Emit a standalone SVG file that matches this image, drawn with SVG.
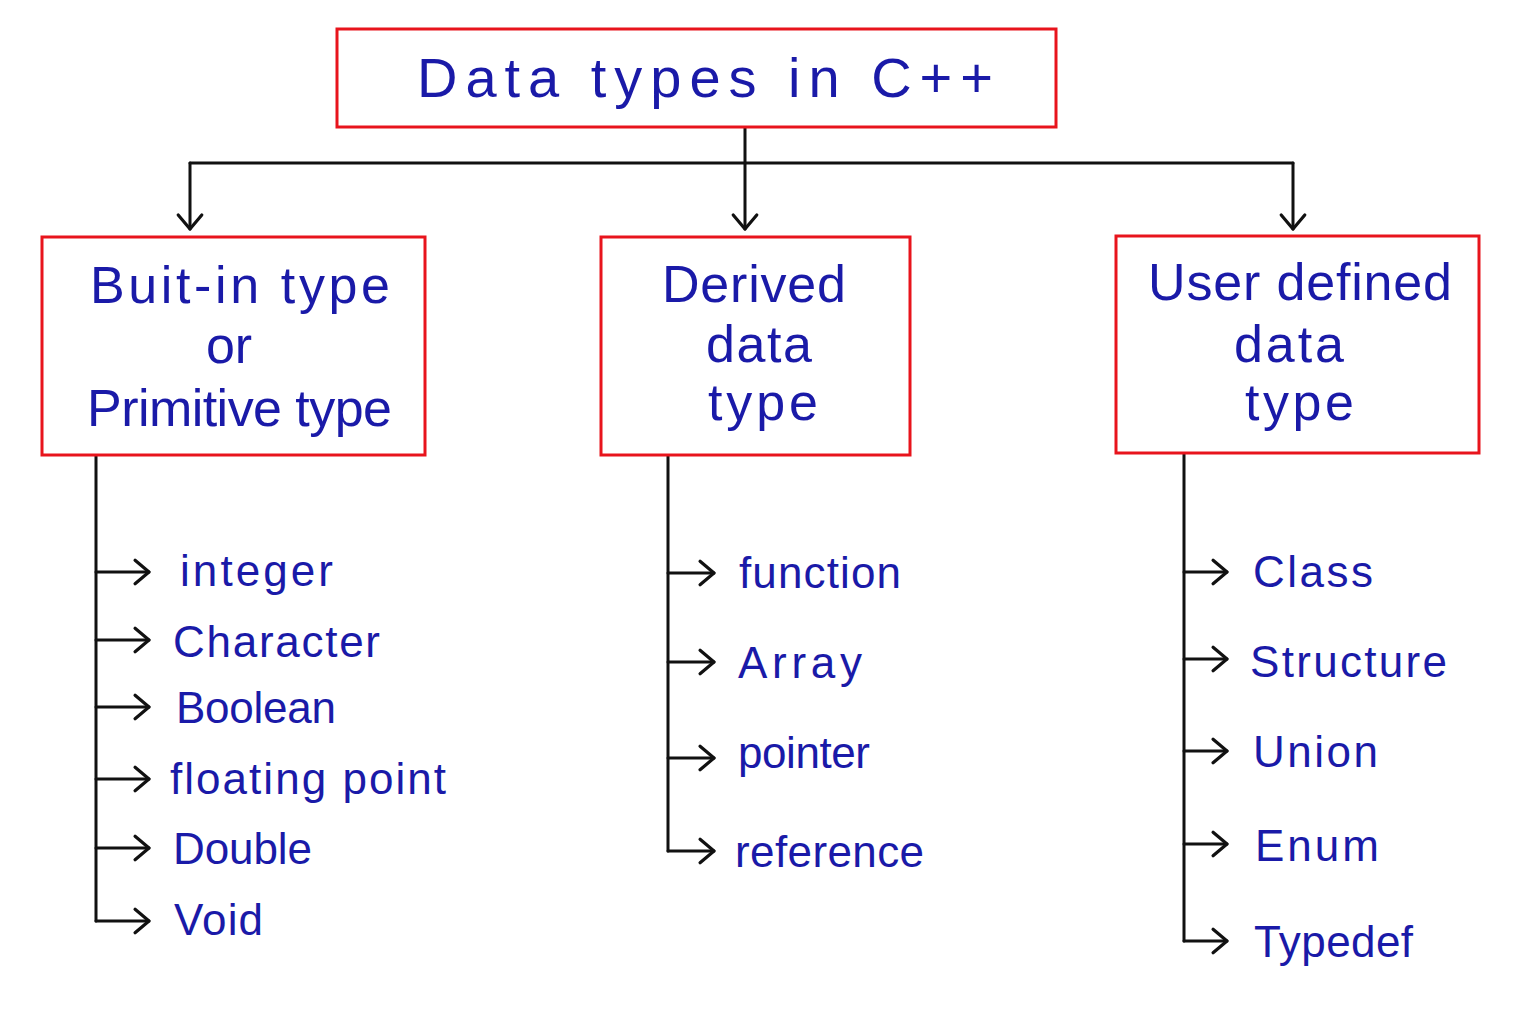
<svg xmlns="http://www.w3.org/2000/svg" width="1537" height="1023" viewBox="0 0 1537 1023">
<defs>
<style>
.box{fill:#fff;stroke:#e8141c;stroke-width:3}
.t{font-family:"Liberation Sans","Open Sans",sans-serif;fill:#1a1aa8;font-weight:400}
.h{font-size:56px}
.b{font-size:52px}
.i{font-size:44px}
.c{fill:none;stroke:#111;stroke-width:3;stroke-linecap:round;stroke-linejoin:round}
</style>
<marker id="ah" markerUnits="userSpaceOnUse" markerWidth="30" markerHeight="30" viewBox="-16 -14 20 28" refX="0" refY="0" orient="auto">
<polyline points="-13,-11 0,0 -13,11" fill="none" stroke="#111" stroke-width="3" stroke-linecap="round" stroke-linejoin="round"/>
</marker>
</defs>
<rect width="1537" height="1023" fill="#fff"/>
<g id="connectors">
<path class="c" d="M745,127 V163"/>
<path class="c" d="M190,163 H1293"/>
<path class="c" d="M190,163 V229" marker-end="url(#ah)"/>
<path class="c" d="M745,163 V229" marker-end="url(#ah)"/>
<path class="c" d="M1293,163 V229" marker-end="url(#ah)"/>
<path class="c" d="M96,455 V921"/>
<path class="c" d="M96,572 H149" marker-end="url(#ah)"/>
<path class="c" d="M96,640 H149" marker-end="url(#ah)"/>
<path class="c" d="M96,707 H149" marker-end="url(#ah)"/>
<path class="c" d="M96,779 H149" marker-end="url(#ah)"/>
<path class="c" d="M96,848 H149" marker-end="url(#ah)"/>
<path class="c" d="M96,921 H149" marker-end="url(#ah)"/>
<path class="c" d="M668,455 V851"/>
<path class="c" d="M668,573 H714" marker-end="url(#ah)"/>
<path class="c" d="M668,662 H714" marker-end="url(#ah)"/>
<path class="c" d="M668,758 H714" marker-end="url(#ah)"/>
<path class="c" d="M668,851 H714" marker-end="url(#ah)"/>
<path class="c" d="M1184,453 V941"/>
<path class="c" d="M1184,572 H1227" marker-end="url(#ah)"/>
<path class="c" d="M1184,659 H1227" marker-end="url(#ah)"/>
<path class="c" d="M1184,751 H1227" marker-end="url(#ah)"/>
<path class="c" d="M1184,844 H1227" marker-end="url(#ah)"/>
<path class="c" d="M1184,941 H1227" marker-end="url(#ah)"/>
</g>
<g id="root">
<rect class="box" x="337" y="29" width="719" height="98"/>
<text class="t h" x="417" y="97" textLength="576" lengthAdjust="spacing">Data types in C++</text>
</g>
<g id="builtin">
<rect class="box" x="42" y="237" width="383" height="218"/>
<text class="t b" x="90" y="303" textLength="300" lengthAdjust="spacing">Buit-in type</text>
<text class="t b" x="229" y="363" text-anchor="middle">or</text>
<text class="t b" x="87" y="426" textLength="305" lengthAdjust="spacing">Primitive type</text>
</g>
<g id="derived">
<rect class="box" x="601" y="237" width="309" height="218"/>
<text class="t b" x="662" y="302" textLength="184" lengthAdjust="spacing">Derived</text>
<text class="t b" x="706" y="362" textLength="106" lengthAdjust="spacing">data</text>
<text class="t b" x="708" y="420" textLength="110" lengthAdjust="spacing">type</text>
</g>
<g id="userdefined">
<rect class="box" x="1116" y="236" width="363" height="217"/>
<text class="t b" x="1148" y="300" textLength="304" lengthAdjust="spacing">User defined</text>
<text class="t b" x="1234" y="362" textLength="110" lengthAdjust="spacing">data</text>
<text class="t b" x="1245" y="420" textLength="109" lengthAdjust="spacing">type</text>
</g>
<g id="builtin-items">
<text class="t i" x="180" y="586" textLength="153" lengthAdjust="spacing">integer</text>
<text class="t i" x="173" y="657" textLength="207" lengthAdjust="spacing">Character</text>
<text class="t i" x="176" y="723" textLength="160" lengthAdjust="spacing">Boolean</text>
<text class="t i" x="170" y="794" textLength="276" lengthAdjust="spacing">floating point</text>
<text class="t i" x="173" y="864" textLength="139" lengthAdjust="spacing">Double</text>
<text class="t i" x="174" y="935" textLength="89" lengthAdjust="spacing">Void</text>
</g>
<g id="derived-items">
<text class="t i" x="739" y="588" textLength="162" lengthAdjust="spacing">function</text>
<text class="t i" x="738" y="678" textLength="124" lengthAdjust="spacing">Array</text>
<text class="t i" x="738" y="768" textLength="132" lengthAdjust="spacing">pointer</text>
<text class="t i" x="735" y="867" textLength="189" lengthAdjust="spacing">reference</text>
</g>
<g id="user-items">
<text class="t i" x="1253" y="587" textLength="120" lengthAdjust="spacing">Class</text>
<text class="t i" x="1250" y="677" textLength="197" lengthAdjust="spacing">Structure</text>
<text class="t i" x="1253" y="767" textLength="125" lengthAdjust="spacing">Union</text>
<text class="t i" x="1255" y="861" textLength="124" lengthAdjust="spacing">Enum</text>
<text class="t i" x="1254" y="957" textLength="159" lengthAdjust="spacing">Typedef</text>
</g>
</svg>
